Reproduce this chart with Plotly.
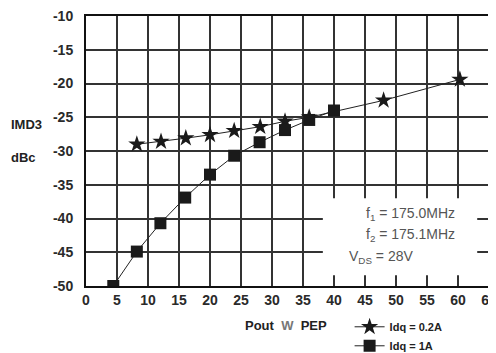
import plotly.graph_objects as go

# Idq = 0.2A (stars)
pout_a = [8.2, 12.1, 16.1, 20.0, 23.9, 28.1, 32.1, 36.0, 48.0, 60.3]
imd_a = [-29.0, -28.6, -28.1, -27.6, -27.0, -26.4, -25.6, -25.0, -22.5, -19.4]
# Idq = 1A (squares)
pout_b = [4.4, 8.2, 12.0, 16.0, 20.0, 23.9, 28.0, 32.1, 36.0, 40.0]
imd_b = [-50.0, -44.9, -40.7, -36.9, -33.5, -30.7, -28.7, -26.9, -25.4, -24.0]

x_ticks = list(range(0, 70, 5))
y_ticks = list(range(-50, -5, 5))

FONT = "Liberation Sans, Arial, sans-serif"

fig = go.Figure()
fig.add_trace(go.Scatter(
    x=pout_a, y=imd_a, mode="lines+markers", name="<b>Idq = 0.2A</b>",
    line=dict(color="#222", width=1),
    marker=dict(symbol="star", size=13, color="#1a1a1a", line=dict(width=0)),
))
fig.add_trace(go.Scatter(
    x=pout_b, y=imd_b, mode="lines+markers", name="<b>Idq = 1A</b>",
    line=dict(color="#222", width=1),
    marker=dict(symbol="square", size=12, color="#1a1a1a", line=dict(width=0)),
))

# white box behind the condition text
fig.add_shape(type="rect", x0=38.2, x1=63.1, y0=-48.4, y1=-37.0,
              fillcolor="white", line=dict(width=0), layer="between")

fig.add_annotation(x=52.3, y=-39.3, xanchor="center", yanchor="middle", showarrow=False,
                   text="f<sub>1</sub> = 175.0MHz", font=dict(family=FONT, size=14, color="#555"))
fig.add_annotation(x=52.3, y=-42.4, xanchor="center", yanchor="middle", showarrow=False,
                   text="f<sub>2</sub> = 175.1MHz", font=dict(family=FONT, size=14, color="#555"))
fig.add_annotation(x=47.6, y=-45.7, xanchor="center", yanchor="middle", showarrow=False,
                   text="V<sub>DS</sub> = 28V", font=dict(family=FONT, size=14, color="#555"))

fig.add_annotation(xref="paper", yref="paper", x=-0.19, y=0.60, xanchor="left", yanchor="middle",
                   showarrow=False, text="<b>IMD3</b>", font=dict(family=FONT, size=13, color="#222"))
fig.add_annotation(xref="paper", yref="paper", x=-0.19, y=0.475, xanchor="left", yanchor="middle",
                   showarrow=False, text="<b>dBc</b>", font=dict(family=FONT, size=13, color="#222"))
fig.add_annotation(xref="paper", yref="paper", x=0.389, y=-0.145, xanchor="left", yanchor="middle",
                   showarrow=False,
                   text="<b>Pout</b>  <span style='color:#777'><b>W</b></span>  <b>PEP</b>",
                   font=dict(family=FONT, size=13, color="#222"))

fig.update_xaxes(range=[0, 65], tickvals=x_ticks, ticktext=[str(v) for v in x_ticks],
                 showgrid=True, gridcolor="#333", gridwidth=1.5,
                 showline=True, linecolor="#111", linewidth=2, mirror=True,
                 ticks="", zeroline=False, automargin=False, ticklabeloverflow="allow",
                 tickfont=dict(family=FONT, size=14, color="#2a2a2a", weight="bold"))
fig.update_yaxes(range=[-50, -10], tickvals=y_ticks, ticktext=[str(v) for v in y_ticks],
                 showgrid=True, gridcolor="#333", gridwidth=1.5,
                 showline=True, linecolor="#111", linewidth=2, mirror=True,
                 ticks="", zeroline=False, ticklabelstandoff=8, automargin=False,
                 ticklabeloverflow="allow",
                 tickfont=dict(family=FONT, size=14, color="#2a2a2a", weight="bold"))

# page body has an 8px margin, so the figure is 488x345 placed at (8, 8)
fig.update_layout(
    width=488, height=345,
    margin=dict(l=78, r=7, t=8, b=67, autoexpand=False),
    plot_bgcolor="white", paper_bgcolor="white",
    showlegend=True,
    legend=dict(xref="container", yref="container", x=0.70, y=0.118,
                xanchor="left", yanchor="top",
                font=dict(family=FONT, size=11, color="#222"),
                bgcolor="rgba(0,0,0,0)", itemwidth=30, tracegroupgap=0,
                itemsizing="trace"),
)

fig.write_html("out.html")
